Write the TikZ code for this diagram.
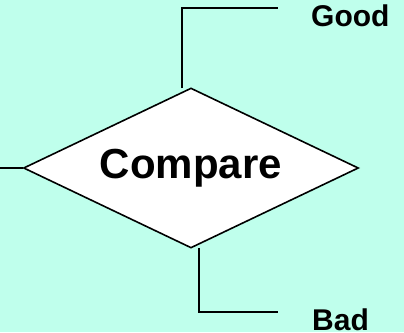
\documentclass[tikz,border=0pt]{standalone}
\usepackage{fontspec}
\setmainfont{Liberation Sans}
\usetikzlibrary{shapes.geometric}
\definecolor{paleaqua}{RGB}{191,255,236}
\tikzset{
    decision/.style={diamond, draw=black, fill=white, line width=1.6pt, line join=miter,
        minimum width=335pt, minimum height=160pt, inner sep=0pt, aspect=2,
        font=\fontsize{42}{48}\selectfont\bfseries},
    branch/.style={draw=black, line width=1.6pt},
    outcome/.style={anchor=base west, inner sep=0pt, font=\fontsize{30}{36}\selectfont\bfseries},
    common settings/.style={x=1pt, y=-1pt}
}
\begin{document}
\begin{tikzpicture}[common settings]

    % Background
    \fill[paleaqua] (0,0) rectangle (404,332);
    \useasboundingbox (0,0) rectangle (404,332);

    % Decision box
    \node[decision] (cmp) at (191,168) {Compare};

    % Loose ends of the connectors
    \coordinate (inlet) at (0,168);
    \coordinate (goodend) at (278,8);
    \coordinate (badend) at (278,312);

    % Connectors
    \draw[branch] (inlet) -- (cmp.west);
    \draw[branch] ([xshift=-9pt, yshift=-1pt]cmp.north) |- (goodend);
    \draw[branch] ([xshift=8pt, yshift=1pt]cmp.south) |- (badend);

    % Outcome labels
    \node[outcome] (good) at (311,27) {Good};
    \node[outcome] (bad) at (312,330) {Bad};

\end{tikzpicture}
\end{document}
